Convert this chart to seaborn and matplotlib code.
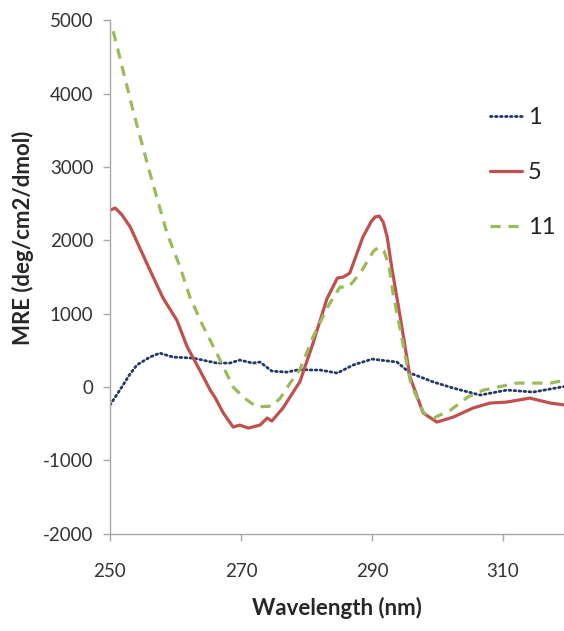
import numpy as np
import pandas as pd
import matplotlib
matplotlib.use("Agg")
import matplotlib.pyplot as plt
import seaborn as sns

# Series "1" (dotted)
x1 = [250, 251.5, 253, 254.1, 256.1, 257.6, 259.6, 262.7, 266.3, 268.3, 269.8, 271.8, 272.9, 274.7, 277, 279, 281, 282.1, 284.7, 287.1, 290, 293.8, 295.8, 299.4, 302.4, 306.5, 310.6, 314.6, 319.5]
y1 = [-245, -41, 170, 300, 409, 463, 409, 395, 327, 327, 368, 327, 341, 218, 204, 240, 232, 232, 191, 300, 381, 341, 191, 68, -14, -109, -41, -68, 10]

# Series "5" (solid)
x5 = [250, 250.8, 251.8, 253.1, 256.1, 258.1, 260.2, 261.8, 263.7, 265.3, 266, 267.3, 268.8, 269.8, 271.1, 272.9, 274, 274.7, 276.4, 279, 281, 283.1, 284.7, 285.6, 286.6, 288.6, 289.9, 290.5, 291.1, 291.7, 292.3, 293, 294.3, 295.8, 297.8, 299.9, 302.4, 305.4, 308, 310.6, 314.1, 317.2, 319.5]
y5 = [2411, 2440, 2350, 2180, 1594, 1213, 913, 545, 232, -41, -136, -354, -545, -518, -559, -518, -422, -463, -286, 75, 600, 1200, 1485, 1499, 1553, 2044, 2260, 2320, 2330, 2250, 2050, 1635, 954, 136, -354, -477, -409, -286, -218, -204, -150, -218, -245]

# Series "11" (dashed)
x11 = [250.5, 253.5, 256.1, 258.7, 260.7, 262.2, 264.2, 266.3, 268.8, 270.5, 272.4, 274.7, 276, 277.5, 279, 281, 283.2, 285.1, 286.4, 288.2, 290.2, 291, 291.8, 292.6, 293.2, 294.4, 295.9, 297.9, 299.4, 302, 304.6, 307, 312.1, 317.2, 319.5]
y11 = [4850, 3774, 2915, 2098, 1635, 1226, 830, 460, 0, -150, -270, -260, -150, 55, 240, 681, 1090, 1362, 1362, 1553, 1850, 1907, 1860, 1650, 1280, 736, 54, -354, -422, -313, -136, -41, 54, 54, 95]

labels = ["1", "5", "11"]

df = pd.concat([
    pd.DataFrame({"Wavelength": x1, "MRE": y1, "sample": "1"}),
    pd.DataFrame({"Wavelength": x5, "MRE": y5, "sample": "5"}),
    pd.DataFrame({"Wavelength": x11, "MRE": y11, "sample": "11"}),
], ignore_index=True)

sns.set_theme(style="white")
plt.rcParams["font.family"] = ["Lato", "DejaVu Sans"]
plt.rcParams["axes.unicode_minus"] = False

fig = plt.figure(figsize=(5.64, 6.31), dpi=100)
ax = fig.add_axes([0.195, 0.154, 0.805, 0.814])

palette = {"1": "#1F3864", "5": "#C0504D", "11": "#9BBB59"}
dashes = {"1": (0.6, 1.2), "5": "", "11": (3.2, 2.4)}
widths = {"1": 2.0, "5": 2.3, "11": 2.3}

for lab in labels:
    sub = df[df["sample"] == lab]
    sns.lineplot(data=sub, x="Wavelength", y="MRE", ax=ax, color=palette[lab],
                 linewidth=widths[lab], label=lab, sort=False, estimator=None)
    line = ax.get_lines()[-1]
    if dashes[lab]:
        line.set_dashes(dashes[lab])
        if lab == "1":
            line.set_dash_capstyle("round")

ax.set_xlim(250, 319.3)
ax.set_ylim(-2000, 5000)
ax.set_xticks([250, 270, 290, 310])
ax.set_yticks(range(-2000, 5001, 1000))
ax.set_xlabel("Wavelength (nm)", fontsize=16, fontweight="bold", labelpad=12)
ax.set_ylabel("MRE (deg/cm2/dmol)", fontsize=16, fontweight="bold", labelpad=6)
ax.yaxis.label.set_y(0.576)
ax.tick_params(axis="both", labelsize=13.5, colors="#A6A6A6", labelcolor="#333333",
               length=5, width=1, direction="out", left=True, bottom=True)
ax.tick_params(axis="x", pad=16)
ax.tick_params(axis="y", pad=7)
for s in ["top", "right"]:
    ax.spines[s].set_visible(False)
for s in ["left", "bottom"]:
    ax.spines[s].set_color("#A6A6A6")
    ax.spines[s].set_linewidth(1)

leg = ax.legend(loc="upper left", bbox_to_anchor=(490 / 564, 1 - 107 / 631),
                bbox_transform=fig.transFigure, frameon=False, borderaxespad=0,
                borderpad=0, fontsize=17, handlelength=1.35, handletextpad=0.25,
                labelspacing=1.45)
for t in leg.get_texts():
    t.set_color("#222222")

fig.savefig("out.png", dpi=100)
